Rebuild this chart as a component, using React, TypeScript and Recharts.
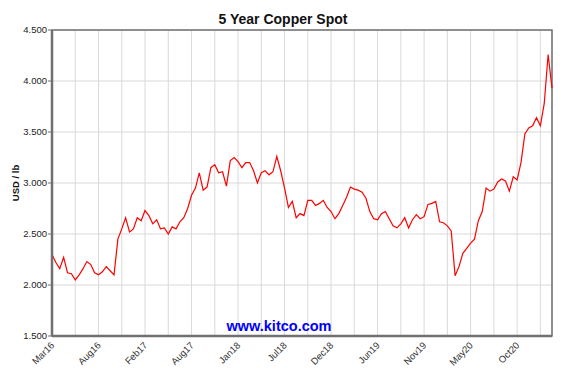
import React from "react";
import {
  LineChart,
  Line,
  XAxis,
  YAxis,
  CartesianGrid,
  ReferenceArea,
} from "recharts";

// copper spot, USD / lb, one reading every ~2 weeks (Mar 2016 .. Mar 2021)
const prices = [
  2.3, 2.22, 2.16, 2.27, 2.12, 2.11, 2.05, 2.1, 2.16, 2.23,
  2.2, 2.12, 2.1, 2.13, 2.18, 2.14, 2.1, 2.45, 2.55, 2.66,
  2.52, 2.55, 2.66, 2.63, 2.73, 2.68, 2.6, 2.64, 2.55, 2.56,
  2.5, 2.57, 2.55, 2.62, 2.66, 2.75, 2.88, 2.95, 3.1, 2.93,
  2.96, 3.15, 3.18, 3.1, 3.11, 2.97, 3.22, 3.25, 3.21, 3.15,
  3.2, 3.2, 3.12, 3.0, 3.1, 3.12, 3.08, 3.11, 3.26, 3.12,
  2.95, 2.76, 2.82, 2.66, 2.7, 2.68, 2.83, 2.83, 2.78, 2.8,
  2.83, 2.76, 2.72, 2.65, 2.7, 2.78, 2.86, 2.96, 2.94, 2.93,
  2.91, 2.85, 2.72, 2.65, 2.64, 2.7, 2.72, 2.65, 2.58, 2.56,
  2.6, 2.66, 2.56, 2.64, 2.69, 2.65, 2.67, 2.79, 2.8, 2.82,
  2.62, 2.61, 2.58, 2.53, 2.09, 2.18, 2.31, 2.36, 2.41, 2.45,
  2.63, 2.72, 2.95, 2.92, 2.94, 3.01, 3.04, 3.02, 2.92, 3.06,
  3.03, 3.2, 3.48, 3.54, 3.56, 3.64, 3.56, 3.78, 4.26, 3.93,
];

const tickLabels = [
  "Mar16", "Aug16", "Feb17", "Aug17", "Jan18", "Jul18",
  "Dec18", "Jun19", "Nov19", "May20", "Oct20",
];

const yTicks = [1.5, 2.0, 2.5, 3.0, 3.5, 4.0, 4.5];

const STEPS_PER_GRID = 6; // a vertical gridline every 6 readings
const STEPS_PER_LABEL = 12; // a label on every second gridline

const data = prices.map((v, i) => ({ i, v }));
const lastIndex = prices.length - 1;
const gridTicks = Array.from(
  { length: Math.floor(lastIndex / STEPS_PER_GRID) + 1 },
  (_, k) => k * STEPS_PER_GRID
);

const FONT = '"Liberation Sans", Arial, sans-serif';
const AXIS = "#707070";

function XTick({ x, y, payload }: any) {
  const v = payload.value as number;
  if (v % STEPS_PER_LABEL !== 0) return null;
  const label = tickLabels[v / STEPS_PER_LABEL];
  if (!label) return null;
  const ax = x + 3;
  const ay = y + 2;
  return (
    <text
      x={ax}
      y={ay}
      transform={`rotate(-45, ${ax}, ${ay})`}
      textAnchor="end"
      fontSize={9.5}
      fontFamily={FONT}
      fill="#333"
    >
      {label}
    </text>
  );
}

export default function App() {
  return (
    <div
      style={{
        position: "absolute",
        left: 0,
        top: 0,
        width: 566,
        height: 370,
        background: "#fff",
        fontFamily: FONT,
      }}
    >
      <div
        style={{
          position: "absolute",
          top: 12,
          left: 0,
          width: 566,
          textAlign: "center",
          fontSize: 14,
          lineHeight: "14px",
          fontWeight: "bold",
          color: "#111",
        }}
      >
        5 Year Copper Spot
      </div>

      <LineChart
        width={566}
        height={370}
        data={data}
        margin={{ top: 30, right: 14, bottom: 0, left: 0 }}
      >
        <CartesianGrid stroke="#d9d9d9" strokeWidth={1} />

        <XAxis
          dataKey="i"
          type="number"
          domain={[0, lastIndex]}
          ticks={gridTicks}
          interval={0}
          height={34}
          tickLine={false}
          tick={<XTick />}
          axisLine={{ stroke: AXIS, strokeWidth: 2.5 }}
        />

        <YAxis
          type="number"
          domain={[1.5, 4.5]}
          ticks={yTicks}
          interval={0}
          width={52}
          tickSize={4}
          tickMargin={1}
          tickFormatter={(v: number) => v.toFixed(3)}
          tick={{ fontSize: 9.5, fill: "#222", fontFamily: FONT }}
          tickLine={{ stroke: AXIS }}
          axisLine={{ stroke: AXIS, strokeWidth: 2.5 }}
          label={{
            value: "USD / lb",
            angle: -90,
            position: "insideLeft",
            offset: 16,
            style: {
              textAnchor: "middle",
              fontSize: 9.5,
              fontWeight: "bold",
              fill: "#111",
              fontFamily: FONT,
            },
          }}
        />

        <ReferenceArea
          x1={0}
          x2={lastIndex}
          y1={1.5}
          y2={4.5}
          fill="none"
          stroke={AXIS}
          strokeWidth={1.5}
        />

        <Line
          type="linear"
          dataKey="v"
          stroke="#ff0000"
          strokeWidth={1.2}
          dot={false}
          isAnimationActive={false}
        />
      </LineChart>

      <div
        style={{
          position: "absolute",
          top: 319,
          left: 179,
          width: 200,
          textAlign: "center",
          fontSize: 14.5,
          lineHeight: "14.5px",
          fontWeight: "bold",
          color: "#0000ff",
        }}
      >
        www.kitco.com
      </div>
    </div>
  );
}
